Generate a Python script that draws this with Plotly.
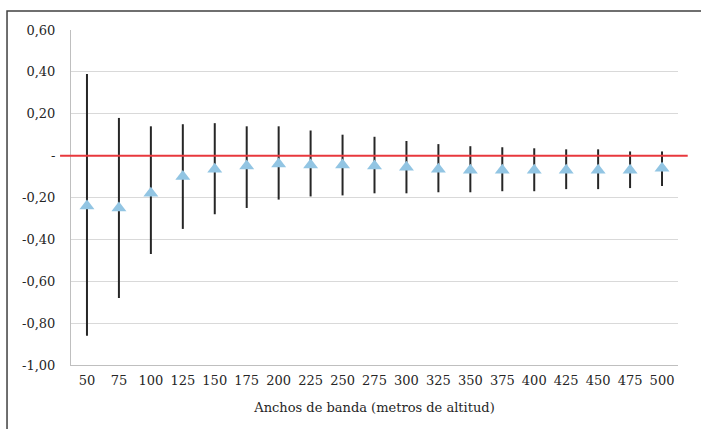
import plotly.graph_objects as go

categories = ["50", "75", "100", "125", "150", "175", "200", "225", "250", "275",
              "300", "325", "350", "375", "400", "425", "450", "475", "500"]
mean_vals = [-0.24, -0.25, -0.18, -0.10, -0.065, -0.05, -0.04, -0.045, -0.045, -0.05,
             -0.055, -0.065, -0.07, -0.07, -0.07, -0.07, -0.07, -0.07, -0.06]
upper_vals = [0.39, 0.18, 0.14, 0.15, 0.155, 0.14, 0.14, 0.12, 0.10, 0.09,
              0.07, 0.055, 0.045, 0.04, 0.035, 0.03, 0.03, 0.02, 0.02]
lower_vals = [-0.86, -0.68, -0.47, -0.35, -0.28, -0.25, -0.21, -0.195, -0.19, -0.18,
              -0.18, -0.175, -0.175, -0.17, -0.17, -0.16, -0.16, -0.155, -0.145]
y_tickvals = [0.6, 0.4, 0.2, 0.0, -0.2, -0.4, -0.6, -0.8, -1.0]
y_ticktext = ["0,60", "0,40", "0,20", "-", "-0,20", "-0,40", "-0,60", "-0,80", "-1,00"]

err_plus = [u - m for u, m in zip(upper_vals, mean_vals)]
err_minus = [m - l for m, l in zip(mean_vals, lower_vals)]

FONT = "DejaVu Serif"

fig = go.Figure()
fig.add_trace(go.Scatter(
    x=categories, y=mean_vals, mode="markers",
    marker=dict(symbol="triangle-up", size=13, color="#92C5E3", line=dict(width=0)),
    error_y=dict(type="data", symmetric=False, array=err_plus, arrayminus=err_minus,
                 color="#262626", thickness=2, width=0),
    showlegend=False,
))

fig.add_shape(type="line", xref="paper", yref="y", x0=-0.018, x1=1.016, y0=0, y1=0,
              line=dict(color="#E8383D", width=2), layer="above")

fig.add_shape(type="rect", xref="paper", yref="paper", x0=-0.1054, x1=1.05, y0=-0.22, y1=1.0567,
              line=dict(color="#404040", width=1.5), fillcolor="rgba(0,0,0,0)", layer="below")

fig.update_layout(
    width=701, height=429,
    margin=dict(l=71, r=23, t=30, b=64),
    paper_bgcolor="white", plot_bgcolor="white",
    font=dict(family=FONT, size=13, color="#262626"),
    xaxis=dict(
        type="category", range=[-0.5, len(categories) - 0.5],
        showgrid=False, showline=True, linecolor="#BFBFBF", linewidth=1,
        ticks="", ticklabelstandoff=3, tickfont=dict(family=FONT, size=13, color="#262626"),
        title=dict(text="Anchos de banda (metros de altitud)", standoff=16,
                   font=dict(family=FONT, size=13, color="#262626")),
    ),
    yaxis=dict(
        range=[-1.0, 0.6], tickvals=y_tickvals, ticktext=y_ticktext,
        showgrid=True, gridcolor="#D9D9D9", gridwidth=1, zeroline=False,
        showline=True, linecolor="#BFBFBF", linewidth=1,
        ticks="", ticklabelstandoff=12, tickfont=dict(family=FONT, size=13, color="#262626"),
    ),
)

fig.write_html("out.html")
